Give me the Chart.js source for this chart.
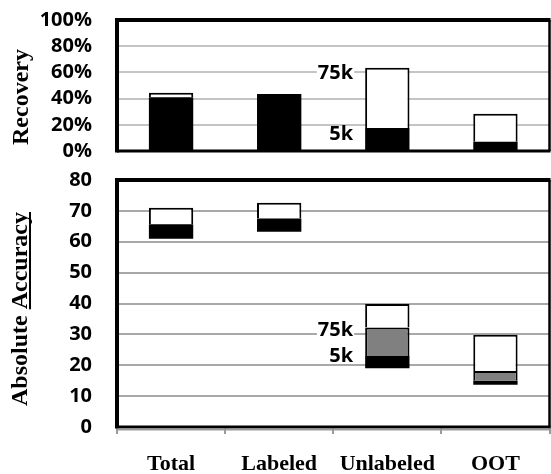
<!DOCTYPE html>
<html>
<head>
<meta charset="utf-8">
<script src="https://cdn.jsdelivr.net/npm/chart.js@4.4.0/dist/chart.umd.min.js"></script>
<style>
  body { margin: 0; background: #fff; }
  #wrap { position: relative; width: 551px; height: 474px; }
  canvas { position: absolute; left: 0; }
  #recChart { top: 0; }
  #accChart { top: 160px; }
</style>
</head>
<body>
<div id="wrap">
  <canvas id="recChart" width="551" height="165"></canvas>
  <canvas id="accChart" width="551" height="314"></canvas>
</div>
<script>
const categories = ['Total', 'Labeled', 'Unlabeled', 'OOT'];

// recovery (%): black part, then full bar height
const recBase = [41, 43.5, 17.5, 7];
const recTotal = [44.5, 43.5, 63.5, 28.5];
const recTicks = [0, 20, 40, 60, 80, 100];

// absolute accuracy: bar bottom, top of black (5k), top of gray (75k), bar top
const accLow = [61, 63.2, 19, 13.7];
const acc5k = [65.7, 67.5, 23, 15];
const acc75k = [null, null, 32.2, 18.1];
const accHigh = [71, 72.6, 39.8, 29.9];
const accTicks = [0, 10, 20, 30, 40, 50, 60, 70, 80];

const sizeLabels = ['75k', '5k'];

const tickFont = { family: "'Open Sans', sans-serif", size: 20, weight: 'bold' };
const serif = "bold 24px 'Liberation Serif', 'Times New Roman', serif";

function hline(ctx, x1, x2, y, w, c) {
  ctx.beginPath(); ctx.lineWidth = w; ctx.strokeStyle = c;
  ctx.moveTo(x1, y); ctx.lineTo(x2, y); ctx.stroke();
}
function vline(ctx, x, y1, y2, w, c) {
  ctx.beginPath(); ctx.lineWidth = w; ctx.strokeStyle = c;
  ctx.moveTo(x, y1); ctx.lineTo(x, y2); ctx.stroke();
}

// plot area border: heavy left/top, lighter right/bottom
const frame = {
  id: 'frame',
  afterDraw(chart, args, opts) {
    const { ctx, chartArea: a } = chart;
    ctx.save();
    vline(ctx, a.left, a.top - 2, a.bottom + 1.5, 4, '#000');
    hline(ctx, a.left - 2, a.right + 1, a.top, 4, '#000');
    vline(ctx, a.right, a.top, a.bottom, 2.5, '#000');
    hline(ctx, a.left, a.right + 1, a.bottom, 3, '#000');
    if (opts.axisLine) hline(ctx, a.left, a.right + 1, a.bottom + 2.5, 2, '#9a9a9a');
    ctx.restore();
  }
};

// vertical axis title, optional underline on the second word
const yTitle = {
  id: 'yTitle',
  afterDraw(chart, args, opts) {
    const { ctx } = chart;
    ctx.save();
    ctx.font = serif;
    ctx.fillStyle = '#000';
    ctx.translate(opts.x, opts.y);
    ctx.rotate(-Math.PI / 2);
    ctx.textBaseline = 'alphabetic';
    const full = opts.text.join(' ');
    const w = ctx.measureText(full).width;
    ctx.fillText(full, -w / 2, 0);
    if (opts.underline) {
      const w0 = ctx.measureText(opts.text[0] + ' ').width;
      const w1 = ctx.measureText(opts.text[1]).width;
      ctx.fillRect(-w / 2 + w0, 2, w1, 2);
    }
    ctx.restore();
  }
};

// "75k" / "5k" labels to the left of the Unlabeled bar
const sizeTags = {
  id: 'sizeTags',
  afterDatasetsDraw(chart, args, opts) {
    const { ctx } = chart;
    const y = chart.scales.y;
    const bar = chart.getDatasetMeta(0).data[2];
    const right = bar.x - bar.width / 2 - 12;
    ctx.save();
    ctx.font = "bold 20px 'Open Sans', sans-serif";
    ctx.textAlign = 'right';
    ctx.textBaseline = 'middle';
    opts.values.forEach((v, i) => {
      const py = y.getPixelForValue(v) + opts.shift[i];
      const tw = ctx.measureText(sizeLabels[i]).width;
      ctx.fillStyle = '#fff';
      ctx.fillRect(right - tw - 1, py - 8, tw + 2, 16);
      ctx.fillStyle = '#000';
      ctx.fillText(sizeLabels[i], right, py);
    });
    ctx.restore();
  }
};

const barCommon = { grouped: false, barPercentage: 0.41, categoryPercentage: 1, borderSkipped: false };
const openTop = { top: 2, left: 2, right: 2, bottom: 0 };

new Chart(document.getElementById('recChart'), {
  type: 'bar',
  data: {
    labels: categories,
    datasets: [
      Object.assign({ data: recBase.map(v => [0, v]), backgroundColor: '#000', borderWidth: 0 }, barCommon),
      Object.assign({
        data: recBase.map((v, i) => recTotal[i] > v ? [v, recTotal[i]] : null),
        backgroundColor: '#fff', borderColor: '#000', borderWidth: openTop
      }, barCommon)
    ]
  },
  options: {
    responsive: false,
    animation: false,
    layout: { padding: { top: 20, right: 1.5, bottom: 14, left: 0 } },
    plugins: {
      legend: { display: false },
      tooltip: { enabled: false },
      frame: {},
      yTitle: { text: ['Recovery'], x: 28, y: 97 },
      sizeTags: { values: [recTotal[2], recBase[2]], shift: [5, 6] }
    },
    scales: {
      x: { display: false },
      y: {
        min: 0, max: 100,
        afterBuildTicks: s => { s.ticks = recTicks.map(v => ({ value: v })); },
        afterFit: s => { s.width = 117; },
        border: { display: false },
        grid: { color: '#c4c4c4', lineWidth: 2, drawTicks: true, tickLength: 25, tickColor: 'rgba(0,0,0,0)' },
        ticks: { font: tickFont, color: '#000', padding: 0, autoSkip: false, callback: v => v + '%' }
      }
    }
  },
  plugins: [frame, yTitle, sizeTags]
});

new Chart(document.getElementById('accChart'), {
  type: 'bar',
  data: {
    labels: categories,
    datasets: [
      Object.assign({
        data: accLow.map((v, i) => [v, acc5k[i]]),
        backgroundColor: '#000', borderWidth: 0
      }, barCommon),
      Object.assign({
        data: acc5k.map((v, i) => acc75k[i] == null ? null : [v, acc75k[i]]),
        backgroundColor: '#808080', borderColor: '#000', borderWidth: openTop
      }, barCommon),
      Object.assign({
        data: accHigh.map((v, i) => [acc75k[i] == null ? acc5k[i] : acc75k[i], v]),
        backgroundColor: '#fff', borderColor: '#000', borderWidth: openTop
      }, barCommon)
    ]
  },
  options: {
    responsive: false,
    animation: false,
    layout: { padding: { top: 20, right: 1.5, bottom: 0, left: 0 } },
    plugins: {
      legend: { display: false },
      tooltip: { enabled: false },
      frame: { axisLine: true },
      yTitle: { text: ['Absolute', 'Accuracy'], x: 27, y: 149, underline: true },
      sizeTags: { values: [acc75k[2], acc5k[2]], shift: [3, 0] }
    },
    scales: {
      x: {
        afterFit: s => { s.height = 47; },
        border: { display: false },
        grid: { drawOnChartArea: false, color: '#9a9a9a', lineWidth: 2, tickLength: 7 },
        ticks: { font: { family: "'Liberation Serif', 'Times New Roman', serif", size: 22, weight: 'bold' }, color: '#000', padding: 17 }
      },
      y: {
        min: 0, max: 80,
        afterBuildTicks: s => { s.ticks = accTicks.map(v => ({ value: v })); },
        afterFit: s => { s.width = 117; },
        border: { display: false },
        grid: { color: '#a8a8a8', lineWidth: 2, drawTicks: true, tickLength: 25, tickColor: 'rgba(0,0,0,0)' },
        ticks: { font: tickFont, color: '#000', padding: 0, autoSkip: false }
      }
    }
  },
  plugins: [frame, yTitle, sizeTags]
});
</script>
</body>
</html>
